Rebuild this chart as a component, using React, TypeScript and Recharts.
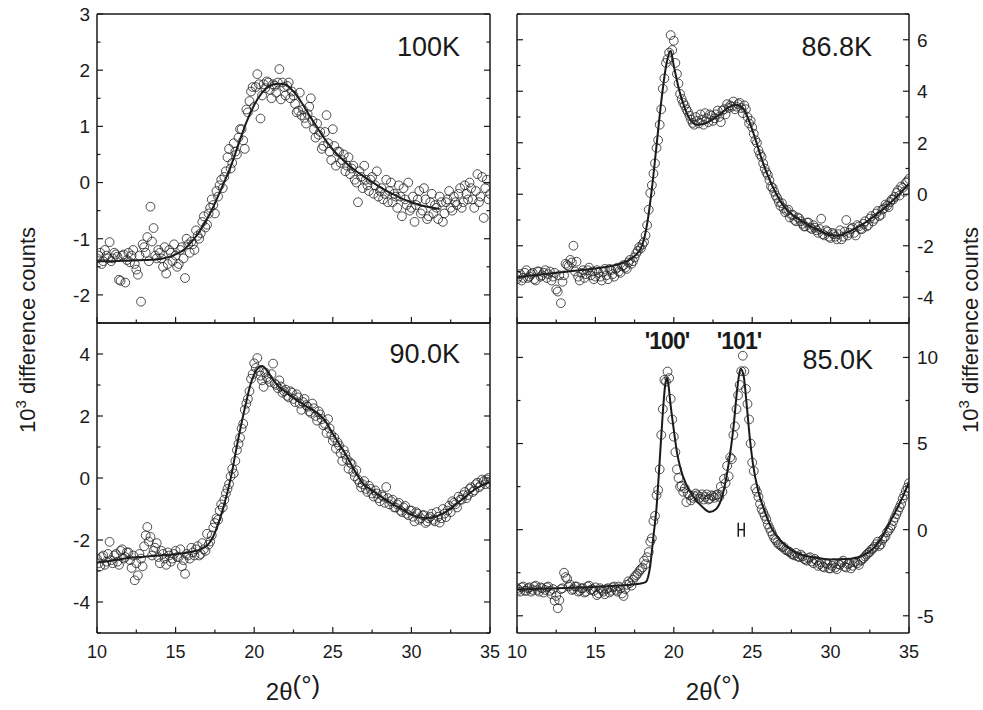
import React from "react"
import { ComposedChart, Scatter, Line, XAxis, YAxis, ErrorBar } from "recharts"

// 2θ scan positions (degrees), first pass
const angles = [
  10, 10.2, 10.4, 10.6, 10.8, 11, 11.2, 11.4, 11.6, 11.8,
  12, 12.2, 12.4, 12.6, 12.8, 13, 13.2, 13.4, 13.6, 13.8,
  14, 14.2, 14.4, 14.6, 14.8, 15, 15.2, 15.4, 15.6, 15.8,
  16, 16.2, 16.4, 16.6, 16.8, 17, 17.2, 17.4, 17.6, 17.8,
  18, 18.2, 18.4, 18.6, 18.8, 19, 19.2, 19.4, 19.6, 19.8,
  20, 20.2, 20.4, 20.6, 20.8, 21, 21.2, 21.4, 21.6, 21.8,
  22, 22.2, 22.4, 22.6, 22.8, 23, 23.2, 23.4, 23.6, 23.8,
  24, 24.2, 24.4, 24.6, 24.8, 25, 25.2, 25.4, 25.6, 25.8,
  26, 26.2, 26.4, 26.6, 26.8, 27, 27.2, 27.4, 27.6, 27.8,
  28, 28.2, 28.4, 28.6, 28.8, 29, 29.2, 29.4, 29.6, 29.8,
  30, 30.2, 30.4, 30.6, 30.8, 31, 31.2, 31.4, 31.6, 31.8,
  32, 32.2, 32.4, 32.6, 32.8, 33, 33.2, 33.4, 33.6, 33.8,
  34, 34.2, 34.4, 34.6, 34.8, 35,
]
// second pass, interleaved
const angles2 = [
  10.1, 10.3, 10.5, 10.7, 10.9, 11.1, 11.3, 11.5, 11.7, 11.9,
  12.1, 12.3, 12.5, 12.7, 12.9, 13.1, 13.3, 13.5, 13.7, 13.9,
  14.1, 14.3, 14.5, 14.7, 14.9, 15.1, 15.3, 15.5, 15.7, 15.9,
  16.1, 16.3, 16.5, 16.7, 16.9, 17.1, 17.3, 17.5, 17.7, 17.9,
  18.1, 18.3, 18.5, 18.7, 18.9, 19.1, 19.3, 19.5, 19.7, 19.9,
  20.1, 20.3, 20.5, 20.7, 20.9, 21.1, 21.3, 21.5, 21.7, 21.9,
  22.1, 22.3, 22.5, 22.7, 22.9, 23.1, 23.3, 23.5, 23.7, 23.9,
  24.1, 24.3, 24.5, 24.7, 24.9, 25.1, 25.3, 25.5, 25.7, 25.9,
  26.1, 26.3, 26.5, 26.7, 26.9, 27.1, 27.3, 27.5, 27.7, 27.9,
  28.1, 28.3, 28.5, 28.7, 28.9, 29.1, 29.3, 29.5, 29.7, 29.9,
  30.1, 30.3, 30.5, 30.7, 30.9, 31.1, 31.3, 31.5, 31.7, 31.9,
  32.1, 32.3, 32.5, 32.7, 32.9, 33.1, 33.3, 33.5, 33.7, 33.9,
  34.1, 34.3, 34.5, 34.7, 34.9,
]

// measured difference counts (x10^3)
const counts100K = [
  -1.35, -1.25, -1.4, -1.3, -1.06, -1.35, -1.28, -1.73, -1.3, -1.78,
  -1.25, -1.3, -1.45, -1.64, -2.12, -1.15, -0.97, -0.43, -0.81, -1.35,
  -1.25, -1.5, -1.62, -1.2, -1.4, -1.3, -1.45, -1.15, -1.7, -1.1,
  -1.05, -1.2, -0.95, -0.9, -0.6, -0.75, -0.45, -0.4, -0.15, -0.05,
  -0.1, 0.2, 0.6, 0.35, 0.55, 0.8, 0.95, 0.6, 1.25, 1.62,
  1.35, 1.93, 1.14, 1.75, 1.8, 1.65, 1.75, 1.6, 2.02, 1.78,
  1.55, 1.78, 1.62, 1.4, 1.28, 1.2, 1.15, 1.22, 1.5, 0.95,
  1.05, 0.9, 0.65, 1.2, 0.55, 0.95, 0.3, 0.55, 0.4, 0.2,
  0.45, 0.25, 0.05, -0.35, 0.1, 0.3, -0.05, 0.05, -0.2, 0.2,
  -0.15, -0.3, 0.05, -0.15, -0.35, -0.25, -0.05, -0.6, -0.3, 0,
  -0.45, -0.7, -0.3, -0.55, -0.1, -0.65, -0.35, -0.55, -0.45, -0.25,
  -0.7, -0.35, -0.15, -0.5, -0.35, -0.2, -0.45, -0.05, -0.3, -0.1,
  -0.45, 0.15, -0.25, -0.63, 0.05, -0.2,
]
const counts100Kb = [
  -1.3, -1.45, -1.2, -1.35, -1.4, -1.25, -1.32, -1.75, -1.28, -1.38,
  -1.42, -1.2, -1.55, -1.3, -1.1, -1.25, -1.4, -1.05, -1.3, -1.2,
  -1.35, -1.15, -1.45, -1.25, -1.1, -1.5, -1.2, -1.35, -1, -1.25,
  -1.1, -0.85, -1, -0.7, -0.8, -0.55, -0.3, -0.55, -0.25, 0.05,
  0.1, 0.45, 0.25, 0.7, 0.5, 0.95, 0.75, 1.3, 1.45, 1.7,
  1.7, 1.75, 1.55, 1.68, 1.78, 1.5, 1.72, 1.78, 1.48, 1.7,
  1.72, 1.5, 1.55, 1.25, 1.6, 1.3, 1.05, 1.35, 1.1, 0.8,
  0.85, 0.6, 0.9, 0.7, 0.4, 0.65, 0.55, 0.35, 0.5, 0.3,
  0.15, 0.3, 0, 0.2, -0.1, 0.05, -0.15, 0.1, -0.05, -0.25,
  -0.1, -0.2, -0.35, 0, -0.2, -0.45, -0.25, -0.1, -0.4, -0.5,
  -0.25, -0.4, -0.15, -0.5, -0.3, -0.6, -0.2, -0.4, -0.65, -0.35,
  -0.55, -0.3, -0.45, -0.25, -0.4, -0.1, -0.35, -0.2, 0, -0.3,
  -0.15, -0.35, 0.1, -0.1, -0.3,
]
const counts868K = [
  -3.3, -3.1, -3.25, -2.95, -3.2, -3.05, -3.35, -3, -3.15, -2.95,
  -3.1, -3.35, -3.05, -3.78, -4.23, -3.15, -2.75, -2.55, -2, -2.62,
  -3.35, -2.95, -3.1, -2.85, -3, -3.2, -3.05, -3.35, -2.9, -3.3,
  -2.95, -3.2, -2.85, -3.05, -2.75, -2.9, -2.55, -2.6, -2.3, -2.05,
  -1.95, -1.6, -0.6, 0.35, 1.2, 2.1, 3.3, 4.5, 5.25, 6.18,
  5.96, 4.67, 3.9, 3.55, 3.3, 3.05, 2.77, 3, 2.75, 2.9,
  3.15, 2.8, 3.05, 2.95, 3.25, 2.8, 3.3, 3.5, 3.45, 3.6,
  3.4, 3.55, 3.15, 3.3, 2.75, 2.6, 2.1, 1.7, 1.45, 1,
  0.75, 0.3, 0.1, -0.15, -0.45, -0.55, -0.65, -0.9, -0.8, -1.05,
  -0.94, -1.15, -1.25, -1.1, -1.35, -1.3, -1.5, -0.95, -1.6, -1.45,
  -1.7, -1.55, -1.75, -1.4, -1.65, -1, -1.5, -1.3, -1.6, -1.25,
  -1.35, -1.05, -1.2, -0.85, -0.95, -0.65, -0.8, -0.55, -0.45, -0.3,
  -0.2, 0.05, -0.05, 0.25, 0.45, 0.6,
]
const counts868Kb = [
  -3.2, -3.35, -3.05, -3.25, -3.1, -3.3, -3, -3.2, -3.05, -3.25,
  -3, -3.2, -3.7, -3.15, -3.4, -2.7, -2.8, -2.65, -3, -3.2,
  -3.05, -3.25, -2.95, -3.15, -3.3, -2.95, -3.2, -3, -3.15, -2.9,
  -3.1, -2.9, -3, -2.8, -2.85, -2.65, -2.7, -2.45, -2.2, -2.1,
  -1.85, -1.2, 0.05, 0.8, 1.8, 2.7, 4.1, 5.1, 5.5, 5.6,
  5.1, 4.3, 3.7, 3.45, 3.2, 2.9, 2.7, 2.85, 3.1, 2.7,
  2.95, 3.1, 2.85, 3.1, 3, 3.25, 3.1, 3.35, 3.4, 3.3,
  3.5, 3.35, 3.45, 3, 2.85, 2.35, 2, 1.55, 1.2, 0.85,
  0.55, 0.25, -0.05, -0.3, -0.35, -0.7, -0.6, -0.8, -1, -0.9,
  -1.05, -1.25, -1.1, -1.3, -1.2, -1.4, -1.35, -1.55, -1.4, -1.65,
  -1.5, -1.65, -1.55, -1.75, -1.45, -1.6, -1.35, -1.5, -1.2, -1.35,
  -1.15, -1.25, -0.95, -1.05, -0.75, -0.85, -0.6, -0.4, -0.5, -0.2,
  -0.1, 0.15, 0.3, 0.1, 0.5,
]
const counts900K = [
  -2.6, -2.85, -2.5, -2.7, -2.06, -2.75, -2.45, -2.8, -2.3, -2.55,
  -2.4, -2.9, -3.3, -3.14, -2.6, -2.2, -1.58, -1.9, -2.35, -2.1,
  -2.75, -2.45, -2.8, -2.5, -2.6, -2.35, -2.55, -2.85, -3.09, -2.5,
  -2.25, -2.5, -2.2, -2.45, -2.3, -1.8, -2.05, -1.6, -1.3, -1.05,
  -0.95, -0.5, -0.2, 0.3, 0.55, 1.1, 1.6, 2.2, 2.55, 3.2,
  3.7, 3.87, 3.3, 2.94, 3.25, 3.1, 3.69, 3, 3.15, 2.75,
  2.85, 2.6, 2.75, 2.45, 2.6, 2.2, 2.55, 2.3, 2.1, 2.25,
  1.85, 2.05, 1.7, 1.45, 1.6, 1.2, 0.95, 1.05, 0.55, 0.75,
  0.3, 0.45, 0.05, -0.05, -0.3, -0.1, -0.45, -0.35, -0.6, -0.5,
  -0.75, -0.6, -0.29, -0.85, -0.7, -0.95, -0.8, -1.1, -0.9, -1.2,
  -1.05, -1.4, -1.15, -1.3, -1.2, -1.4, -1.25, -1.35, -1.1, -1.44,
  -1, -1.26, -0.9, -0.75, -0.85, -0.6, -0.7, -0.45, -0.55, -0.3,
  -0.4, -0.15, -0.25, -0.1, -0.05, -0.2,
]
const counts900Kb = [
  -2.75, -2.55, -2.8, -2.45, -2.65, -2.5, -2.7, -2.35, -2.6, -2.4,
  -2.65, -2.5, -2.75, -2.45, -2.85, -1.85, -2.05, -2.5, -2.25, -2.55,
  -2.35, -2.6, -2.4, -2.7, -2.45, -2.55, -2.3, -2.65, -2.45, -2.6,
  -2.4, -2.3, -2.5, -2.1, -2.35, -2.15, -1.85, -1.45, -1.35, -0.85,
  -0.7, -0.35, 0.05, 0.15, 0.9, 1.3, 1.75, 2.4, 2.8, 3.35,
  3.55, 3.45, 3.15, 3.4, 3.2, 3.35, 3.05, 2.9, 2.95, 2.8,
  2.65, 2.8, 2.55, 2.7, 2.4, 2.45, 2.35, 2.15, 2.4, 2,
  2.15, 1.9, 1.75, 1.9, 1.4, 1.3, 1.15, 0.8, 0.9, 0.6,
  0.5, 0.2, 0.25, -0.15, -0.2, -0.35, -0.25, -0.5, -0.4, -0.65,
  -0.55, -0.8, -0.65, -0.75, -0.95, -0.85, -1.05, -0.95, -1.15, -1.05,
  -1.25, -1.1, -1.35, -1.2, -1.45, -1.3, -1.15, -1.4, -1.25, -1.3,
  -1.15, -1.05, -1.1, -0.8, -0.95, -0.7, -0.55, -0.65, -0.35, -0.45,
  -0.2, -0.3, -0.05, -0.2, 0,
]
const counts850K = [
  -3.4, -3.6, -3.3, -3.55, -3.35, -3.5, -3.25, -3.6, -3.4, -3.5,
  -3.3, -3.75, -4.12, -4.56, -3.45, -2.5, -2.85, -3.2, -3.45, -3.3,
  -3.55, -3.4, -3.6, -3.25, -3.45, -3.35, -3.7, -3.5, -3.75, -3.4,
  -3.55, -3.3, -3.6, -3.4, -3.85, -3.2, -3.1, -2.9, -2.65, -2.4,
  -2.2, -2, -1.3, -0.5, 0.8, 2.3, 5.5, 8.7, 9.18, 7.6,
  5.4, 3.5, 2.5, 2.2, 1.6, 2, 1.85, 2.1, 1.8, 2.05,
  1.9, 1.75, 2, 1.85, 2.05, 2.5, 2.95, 3.7, 4.2, 5.5,
  7, 8.4, 10.1, 8.17, 6.4, 3.9, 2.4, 1.9, 1.2, 0.8,
  0.3, -0.1, -0.5, -0.75, -0.9, -1, -1.2, -1.3, -1.45, -1.35,
  -1.6, -1.55, -1.75, -1.65, -1.85, -1.7, -2.1, -1.9, -2.2, -2,
  -2.25, -1.95, -2.3, -2.05, -1.8, -2.2, -1.95, -2.1, -1.85, -2.05,
  -1.75, -1.55, -1.35, -1.15, -1, -0.7, -0.85, -0.5, -0.15, 0.1,
  0.5, 0.9, 1.3, 1.8, 2.25, 2.7,
]
const counts850Kb = [
  -3.5, -3.35, -3.55, -3.4, -3.6, -3.3, -3.5, -3.35, -3.65, -3.35,
  -3.55, -3.45, -3.85, -4.1, -3.4, -2.75, -3.3, -3.5, -3.3, -3.6,
  -3.4, -3.65, -3.3, -3.5, -3.55, -3.8, -3.4, -3.6, -3.45, -3.65,
  -3.35, -3.5, -3.3, -3.7, -3.45, -3, -3.25, -2.75, -2.55, -2.3,
  -1.8, -1.6, -0.7, 0.5, 2, 3.5, 7, 8.6, 8.8, 6.4,
  4.5, 3, 2.55, 2.4, 2.1, 1.7, 1.95, 2, 1.9, 1.75,
  2.05, 1.8, 1.95, 2, 1.9, 2.2, 2.7, 3.1, 4.1, 6,
  7.8, 9.2, 9.2, 7.3, 5, 3.4, 2.2, 1.5, 1, 0.6,
  0.1, -0.3, -0.6, -0.85, -1, -1.15, -1.25, -1.4, -1.5, -1.55,
  -1.45, -1.7, -1.8, -1.6, -1.95, -1.8, -2, -2.15, -1.95, -2.25,
  -2.1, -2.2, -2, -1.9, -2.15, -2, -2.25, -1.9, -1.95, -1.8,
  -1.65, -1.45, -1.3, -1.1, -0.85, -0.95, -0.6, -0.4, -0.05, 0.25,
  0.7, 1.1, 1.5, 2, 2.45,
]

// fitted curves
const fitX100K = [10, 11, 12, 13, 14, 14.5, 15, 15.5, 16, 16.5, 17, 17.5, 18, 18.5, 19, 19.5, 20, 20.5, 21, 21.5, 22, 22.5, 23, 23.5, 24, 24.5, 25, 25.5, 26, 26.5, 27, 27.5, 28, 28.5, 29, 29.5, 30, 30.5, 31, 31.8]
const fitY100K = [-1.4, -1.4, -1.39, -1.38, -1.36, -1.33, -1.28, -1.2, -1.06, -0.88, -0.65, -0.37, -0.05, 0.28, 0.68, 1.07, 1.38, 1.6, 1.72, 1.76, 1.74, 1.62, 1.43, 1.2, 0.98, 0.77, 0.59, 0.44, 0.31, 0.2, 0.1, 0.01, -0.08, -0.16, -0.23, -0.3, -0.35, -0.4, -0.43, -0.47]

const fitX868K = [10, 11, 12, 13, 14, 15, 16, 16.5, 17, 17.5, 18, 18.3, 18.6, 18.9, 19.2, 19.5, 19.8, 20, 20.3, 20.7, 21.1, 21.5, 22, 22.5, 23, 23.5, 24, 24.4, 24.8, 25.2, 25.6, 26, 26.5, 27, 27.5, 28, 28.5, 29, 29.5, 30, 30.5, 31, 31.5, 32, 32.5, 33, 33.5, 34, 34.5, 35]
const fitY868K = [-3.22, -3.15, -3.09, -3.02, -2.95, -2.88, -2.79, -2.72, -2.6, -2.4, -1.95, -1.15, 0.2, 1.9, 3.6, 4.95, 5.57, 4.99, 4.15, 3.35, 2.85, 2.7, 2.75, 2.92, 3.13, 3.38, 3.48, 3.35, 2.85, 2.15, 1.38, 0.72, 0.05, -0.45, -0.78, -0.98, -1.17, -1.33, -1.48, -1.58, -1.61, -1.5, -1.35, -1.18, -0.98, -0.75, -0.5, -0.22, 0.08, 0.41]

const fitX900K = [10, 11, 12, 13, 14, 15, 15.5, 16, 16.5, 17, 17.3, 17.6, 18, 18.5, 19, 19.5, 19.75, 20, 20.3, 20.5, 20.8, 21.2, 21.6, 22, 22.5, 23, 23.5, 24, 24.5, 25, 25.5, 26, 26.5, 27, 27.5, 28, 28.5, 29, 29.5, 30, 30.5, 31, 31.5, 32, 32.5, 33, 33.5, 34, 34.5, 35]
const fitY900K = [-2.73, -2.66, -2.58, -2.54, -2.5, -2.46, -2.43, -2.38, -2.32, -2.18, -1.98, -1.63, -1.02, -0.02, 1.3, 2.47, 2.99, 3.35, 3.57, 3.61, 3.47, 3.17, 2.93, 2.78, 2.58, 2.42, 2.25, 2.1, 1.85, 1.43, 1.03, 0.6, 0.14, -0.22, -0.4, -0.58, -0.75, -0.9, -1.04, -1.18, -1.27, -1.29, -1.25, -1.15, -0.98, -0.78, -0.58, -0.38, -0.24, -0.13]

const fitX850K = [10, 12, 14, 16, 17, 17.8, 18.2, 18.5, 18.7, 18.9, 19.1, 19.3, 19.45, 19.55, 19.65, 19.8, 20, 20.2, 20.4, 20.8, 21.3, 21.8, 22.3, 22.7, 23, 23.2, 23.5, 23.8, 24.05, 24.25, 24.45, 24.65, 24.85, 25.05, 25.4, 25.8, 26.25, 26.9, 27.7, 28.8, 30, 31.3, 32, 32.6, 33.2, 33.9, 34.5, 35]
const fitY850K = [-3.48, -3.42, -3.36, -3.27, -3.21, -3.14, -3.05, -2.08, -0.4, 1.3, 4, 6.8, 8.4, 8.8, 8.45, 7.2, 5.8, 4.5, 3.65, 2.6, 1.85, 1.35, 1.03, 1.2, 1.7, 2.35, 3.85, 5.88, 8.2, 9.34, 8.95, 7.24, 5.3, 3.8, 2.19, 1.05, 0.06, -0.72, -1.3, -1.59, -1.73, -1.69, -1.53, -1.2, -0.55, 0.64, 1.71, 2.78]

// instrumental resolution marker in the 85.0K panel
const resolutionX = [24.3]
const resolutionY = [0]
const resolutionHalfWidth = [0.19]

const xTicks = [10, 12.5, 15, 17.5, 20, 22.5, 25, 27.5, 30, 32.5, 35]
const xMajor = [10, 15, 20, 25, 30, 35]

const FONT = '"Liberation Sans", Arial, Helvetica, sans-serif'
const INK = "#1a1a1a"
const M = 45

const toPoints = (xs: number[], ys: number[]) => xs.map((x, i) => ({ x, y: ys[i] }))

const isIn = (list: number[], v: number) => list.some((m) => Math.abs(m - v) < 1e-6)

function makeTick(side: "bottom" | "top" | "left" | "right", major: number[], labels: boolean) {
  return (props: any) => {
    const { x, y, payload } = props
    const v = payload.value
    const big = isIn(major, v)
    const len = big ? 6 : 3.5
    let line = null
    let text = null
    if (side === "bottom") {
      line = <line x1={x} y1={y} x2={x} y2={y - len} />
      if (labels && big)
        text = (
          <text x={x} y={y + 25} textAnchor="middle" fontSize={18}>
            {v}
          </text>
        )
    } else if (side === "top") {
      line = <line x1={x} y1={y} x2={x} y2={y + len} />
    } else if (side === "left") {
      line = <line x1={x} y1={y} x2={x + len} y2={y} />
      if (labels && big)
        text = (
          <text x={x - 7} y={y} dy="0.36em" textAnchor="end" fontSize={19}>
            {v}
          </text>
        )
    } else {
      line = <line x1={x} y1={y} x2={x - len} y2={y} />
      if (labels && big)
        text = (
          <text x={x + 8} y={y} dy="0.36em" textAnchor="start" fontSize={19}>
            {v}
          </text>
        )
    }
    return (
      <g>
        <g stroke={INK} strokeWidth={1.2}>{line}</g>
        <g fill={INK} stroke="none" fontFamily={FONT}>{text}</g>
      </g>
    )
  }
}

const ring = (p: any) => (
  <circle cx={p.cx} cy={p.cy} r={4.4} fill="none" stroke="#222" strokeWidth={0.8} />
)

type PanelProps = {
  left: number
  top: number
  width: number
  height: number
  yDomain: [number, number]
  yTicks: number[]
  yMajor: number[]
  labelSide: "left" | "right"
  xLabels: boolean
  points: { x: number; y: number }[]
  fit: { x: number; y: number }[]
  resolution?: { x: number; y: number; e: number }[]
}

function Panel(p: PanelProps) {
  const axisLine = { stroke: INK, strokeWidth: 1.5 }
  const yId = p.labelSide === "left" ? "L" : "R"
  // each axis takes 1px so that it is drawn; the plot sits exactly M px inside the svg
  const m = M - 1
  return (
    <div style={{ position: "absolute", left: p.left - M, top: p.top - M }}>
      <ComposedChart
        width={p.width + 2 * M}
        height={p.height + 2 * M}
        margin={{ top: m, right: m, bottom: m, left: m }}
      >
        <XAxis
          xAxisId="B"
          orientation="bottom"
          type="number"
          dataKey="x"
          domain={[10, 35]}
          ticks={xTicks}
          interval={0}
          allowDataOverflow
          height={1}
          tickSize={0}
          tickMargin={0}
          axisLine={axisLine}
          tickLine={false}
          tick={makeTick("bottom", xMajor, p.xLabels)}
        />
        <XAxis
          xAxisId="T"
          orientation="top"
          type="number"
          domain={[10, 35]}
          ticks={xTicks}
          interval={0}
          allowDataOverflow
          height={1}
          tickSize={0}
          tickMargin={0}
          axisLine={axisLine}
          tickLine={false}
          tick={makeTick("top", xMajor, false)}
        />
        <YAxis
          yAxisId="L"
          orientation="left"
          type="number"
          dataKey="y"
          domain={p.yDomain}
          ticks={p.yTicks}
          interval={0}
          allowDataOverflow
          width={1}
          tickSize={0}
          tickMargin={0}
          axisLine={axisLine}
          tickLine={false}
          tick={makeTick("left", p.yMajor, p.labelSide === "left")}
        />
        <YAxis
          yAxisId="R"
          orientation="right"
          type="number"
          dataKey="y"
          domain={p.yDomain}
          ticks={p.yTicks}
          interval={0}
          allowDataOverflow
          width={1}
          tickSize={0}
          tickMargin={0}
          axisLine={axisLine}
          tickLine={false}
          tick={makeTick("right", p.yMajor, p.labelSide === "right")}
        />
        <Scatter
          data={p.points}
          dataKey="y"
          xAxisId="B"
          yAxisId={yId}
          shape={ring}
          isAnimationActive={false}
        />
        <Line
          data={p.fit}
          dataKey="y"
          xAxisId="B"
          yAxisId={yId}
          type="monotone"
          dot={false}
          activeDot={false}
          stroke={INK}
          strokeWidth={2}
          isAnimationActive={false}
        />
        {p.resolution && (
          <Scatter
            data={p.resolution}
            dataKey="y"
            xAxisId="B"
            yAxisId={yId}
            shape={() => <g />}
            isAnimationActive={false}
          >
            <ErrorBar dataKey="e" direction="x" width={7} stroke={INK} strokeWidth={1.5} />
          </Scatter>
        )}
      </ComposedChart>
    </div>
  )
}

function YTitle({ x }: { x: number }) {
  return (
    <text x={x} y={330} transform={`rotate(-90 ${x} 330)`} textAnchor="middle" fontSize={22}>
      10<tspan dy={-9} fontSize={15}>3</tspan>
      <tspan dy={9}> difference counts</tspan>
    </text>
  )
}

function XTitle({ x }: { x: number }) {
  return (
    <text x={x} y={700} textAnchor="middle" fontSize={24} fontFamily={'"Liberation Sans Narrow", ' + FONT}>
      2θ<tspan dy={-6} fontSize={26}>(°)</tspan>
    </text>
  )
}

export default function App() {
  const resolution = resolutionX.map((x, i) => ({ x, y: resolutionY[i], e: resolutionHalfWidth[i] }))
  return (
    <div style={{ position: "absolute", left: 0, top: 0, width: 983, height: 710, background: "#fff", overflow: "hidden" }}>
      <Panel
        left={97}
        top={14}
        width={393}
        height={309}
        yDomain={[-2.5, 3]}
        yTicks={[-2, -1.5, -1, -0.5, 0, 0.5, 1, 1.5, 2, 2.5, 3]}
        yMajor={[-2, -1, 0, 1, 2, 3]}
        labelSide="left"
        xLabels={false}
        points={[...toPoints(angles, counts100K), ...toPoints(angles2, counts100Kb)]}
        fit={toPoints(fitX100K, fitY100K)}
      />
      <Panel
        left={517}
        top={14}
        width={392}
        height={309}
        yDomain={[-5, 7]}
        yTicks={[-5, -4, -3, -2, -1, 0, 1, 2, 3, 4, 5, 6, 7]}
        yMajor={[-4, -2, 0, 2, 4, 6]}
        labelSide="right"
        xLabels={false}
        points={[...toPoints(angles, counts868K), ...toPoints(angles2, counts868Kb)]}
        fit={toPoints(fitX868K, fitY868K)}
      />
      <Panel
        left={97}
        top={323}
        width={393}
        height={310}
        yDomain={[-5, 5]}
        yTicks={[-5, -4, -3, -2, -1, 0, 1, 2, 3, 4, 5]}
        yMajor={[-4, -2, 0, 2, 4]}
        labelSide="left"
        xLabels
        points={[...toPoints(angles, counts900K), ...toPoints(angles2, counts900Kb)]}
        fit={toPoints(fitX900K, fitY900K)}
      />
      <Panel
        left={517}
        top={323}
        width={392}
        height={310}
        yDomain={[-6, 12]}
        yTicks={[-5, -2.5, 0, 2.5, 5, 7.5, 10]}
        yMajor={[-5, 0, 5, 10]}
        labelSide="right"
        xLabels
        points={[...toPoints(angles, counts850K), ...toPoints(angles2, counts850Kb)]}
        fit={toPoints(fitX850K, fitY850K)}
        resolution={resolution}
      />
      <svg
        width={983}
        height={710}
        style={{ position: "absolute", left: 0, top: 0, pointerEvents: "none" }}
        fontFamily={FONT}
        fill={INK}
      >
        <text x={460} y={56} textAnchor="end" fontSize={27}>100K</text>
        <text x={872} y={56} textAnchor="end" fontSize={27}>86.8K</text>
        <text x={460} y={363} textAnchor="end" fontSize={27}>90.0K</text>
        <text x={873} y={369} textAnchor="end" fontSize={27}>85.0K</text>
        <text x={667} y={349} textAnchor="middle" fontSize={23} fontWeight="bold" letterSpacing={-1}>'100'</text>
        <text x={739} y={349} textAnchor="middle" fontSize={23} fontWeight="bold" letterSpacing={-1}>'101'</text>
        <YTitle x={35} />
        <YTitle x={978} />
        <XTitle x={293} />
        <XTitle x={713} />
      </svg>
    </div>
  )
}
